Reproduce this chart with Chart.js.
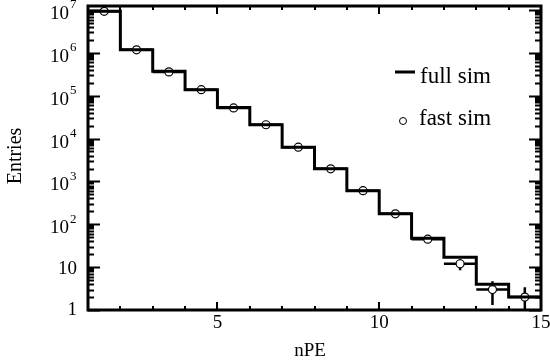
<!DOCTYPE html>
<html><head><meta charset="utf-8">
<script src="https://cdn.jsdelivr.net/npm/chart.js@4/dist/chart.umd.min.js"></script>
<style>html,body{margin:0;padding:0;background:#fff;}</style>
</head><body>
<canvas id="c" width="550" height="364"></canvas>
<script>
// ---- data ----
const binEdges   = [1, 2, 3, 4, 5, 6, 7, 8, 9, 10, 11, 12, 13, 14, 15];
const fullSim    = [9.4e6, 1.18e6, 3.7e5, 1.38e5, 5.3e4, 2.1e4, 6.3e3, 1.97e3, 610, 175, 47, 17, 4, 2];
const binCenters = [1.5, 2.5, 3.5, 4.5, 5.5, 6.5, 7.5, 8.5, 9.5, 10.5, 11.5, 12.5, 13.5, 14.5];
const fastSim    = [9.3e6, 1.18e6, 3.6e5, 1.38e5, 5.2e4, 2.1e4, 6.3e3, 1.97e3, 610, 175, 45, 12, 3, 2];
const fastErr    = [3050, 1086, 600, 371, 228, 145, 79, 44, 25, 13, 6.7, 3.5, 1.7, 1.4];
const binHalfWidth = 0.5;
const xTickValues = [5, 10, 15];
const xTickLabels = ['5', '10', '15'];
const yDecadeExps = [0, 1, 2, 3, 4, 5, 6, 7];
const xTitle = 'nPE';
const yTitle = 'Entries';
const legendLabels = ['full sim', 'fast sim'];

const SERIF = '"Liberation Serif", "DejaVu Serif", serif';
const MARKER_R = 4;

const stepPoints = binEdges.map((e, i) => ({x: e, y: fullSim[Math.min(i, fullSim.length - 1)]}));
const fastPoints = binCenters.map((c, i) => ({x: c, y: fastSim[i]}));

const errorBars = {
  id: 'errorBars',
  afterDatasetDraw(chart, args) {
    if (args.index !== 0) return;
    const {ctx, chartArea: a} = chart;
    const xs = chart.scales.x, ys = chart.scales.y;
    ctx.save();
    ctx.beginPath(); ctx.rect(a.left, a.top, a.right - a.left, a.bottom - a.top); ctx.clip();
    ctx.strokeStyle = '#000'; ctx.lineWidth = 2.5;
    const g = MARKER_R;
    binCenters.forEach((c, i) => {
      const v = fastSim[i], e = fastErr[i];
      const px = xs.getPixelForValue(c), py = ys.getPixelForValue(v);
      const xl = xs.getPixelForValue(c - binHalfWidth), xr = xs.getPixelForValue(c + binHalfWidth);
      const yt = ys.getPixelForValue(v + e);
      const yb = v - e > 0 ? ys.getPixelForValue(v - e) : a.bottom + 5;
      ctx.beginPath();
      ctx.moveTo(xl, py); ctx.lineTo(px - g, py);
      ctx.moveTo(px + g, py); ctx.lineTo(xr, py);
      if (yt < py - g) { ctx.moveTo(px, yt); ctx.lineTo(px, py - g); }
      if (yb > py + g) { ctx.moveTo(px, py + g); ctx.lineTo(px, yb); }
      ctx.stroke();
    });
    ctx.restore();
  }
};

const frameAndText = {
  id: 'frameAndText',
  afterDraw(chart) {
    const {ctx, chartArea: a} = chart;
    const xs = chart.scales.x, ys = chart.scales.y;
    ctx.save();
    ctx.strokeStyle = '#000'; ctx.fillStyle = '#000';
    ctx.lineWidth = 2;
    ctx.beginPath();
    for (let v = Math.ceil(xs.min); v <= xs.max; v++) {
      const px = Math.round(xs.getPixelForValue(v));
      const len = (v % 5 === 0) ? 8 : 4;
      ctx.moveTo(px, a.bottom); ctx.lineTo(px, a.bottom - len);
      ctx.moveTo(px, a.top); ctx.lineTo(px, a.top + len);
    }
    for (let d = 0; d <= 7; d++) {
      for (let m = 1; m <= 9; m++) {
        const v = m * Math.pow(10, d);
        if (v < ys.min || v > ys.max) continue;
        const py = Math.round(ys.getPixelForValue(v)) + 0.5;
        const len = m === 1 ? 12 : 6;
        ctx.moveTo(a.left, py); ctx.lineTo(a.left + len, py);
        ctx.moveTo(a.right, py); ctx.lineTo(a.right - len, py);
      }
    }
    ctx.stroke();
    ctx.lineWidth = 3;
    ctx.strokeRect(a.left, a.top, a.right - a.left, a.bottom - a.top);

    ctx.font = '19px ' + SERIF;
    ctx.textAlign = 'center'; ctx.textBaseline = 'middle';
    xTickValues.forEach((v, i) => ctx.fillText(xTickLabels[i], xs.getPixelForValue(v), 323));
    yDecadeExps.forEach(n => {
      const py = ys.getPixelForValue(Math.pow(10, n));
      if (n === 0) {
        ctx.font = '19px ' + SERIF; ctx.textAlign = 'right';
        ctx.fillText('1', 77, py);
      } else if (n === 1) {
        ctx.font = '19px ' + SERIF; ctx.textAlign = 'right';
        ctx.fillText('10', 77, py + 2);
      } else {
        ctx.font = '19px ' + SERIF; ctx.textAlign = 'right';
        ctx.fillText('10', 69, py + 4);
        ctx.font = '13px ' + SERIF; ctx.textAlign = 'left';
        ctx.fillText(String(n), 70, py - 5);
      }
    });
    ctx.font = '19px ' + SERIF; ctx.textAlign = 'center';
    ctx.fillText(xTitle, 310, 351);
    ctx.save();
    ctx.translate(16, 156); ctx.rotate(-Math.PI / 2);
    ctx.font = '20px ' + SERIF;
    ctx.fillText(yTitle, 0, 0);
    ctx.restore();

    ctx.lineWidth = 3;
    ctx.beginPath(); ctx.moveTo(395, 72); ctx.lineTo(415, 72); ctx.stroke();
    ctx.font = '23px ' + SERIF; ctx.textAlign = 'left'; ctx.textBaseline = 'alphabetic';
    ctx.fillText(legendLabels[0], 420, 83);
    ctx.lineWidth = 1;
    ctx.beginPath(); ctx.arc(403, 121, 3.5, 0, Math.PI * 2); ctx.stroke();
    ctx.fillText(legendLabels[1], 419, 125);
    ctx.restore();
  }
};

new Chart(document.getElementById('c'), {
  type: 'line',
  data: {
    datasets: [
      {
        label: legendLabels[0], data: stepPoints, stepped: 'before',
        borderColor: '#000', borderWidth: 3, pointRadius: 0, fill: false, order: 2
      },
      {
        label: legendLabels[1], data: fastPoints, showLine: false,
        pointRadius: MARKER_R, pointBackgroundColor: 'rgba(0,0,0,0)', pointBorderColor: '#000',
        pointBorderWidth: 1.2, order: 1, clip: false
      }
    ]
  },
  options: {
    responsive: false, animation: false, devicePixelRatio: 1,
    layout: {padding: {left: 0, right: 9, top: 6, bottom: 0}},
    plugins: {legend: {display: false}, tooltip: {enabled: false}},
    scales: {
      x: {
        type: 'linear', min: 1, max: 15,
        grid: {display: false}, border: {display: false},
        ticks: {display: false},
        afterFit(s) { s.height = 54; }
      },
      y: {
        type: 'logarithmic', min: 1, max: 1.24e7,
        grid: {display: false}, border: {display: false},
        ticks: {display: false},
        afterFit(s) { s.width = 88; }
      }
    }
  },
  plugins: [errorBars, frameAndText]
});
</script>
</body></html>
